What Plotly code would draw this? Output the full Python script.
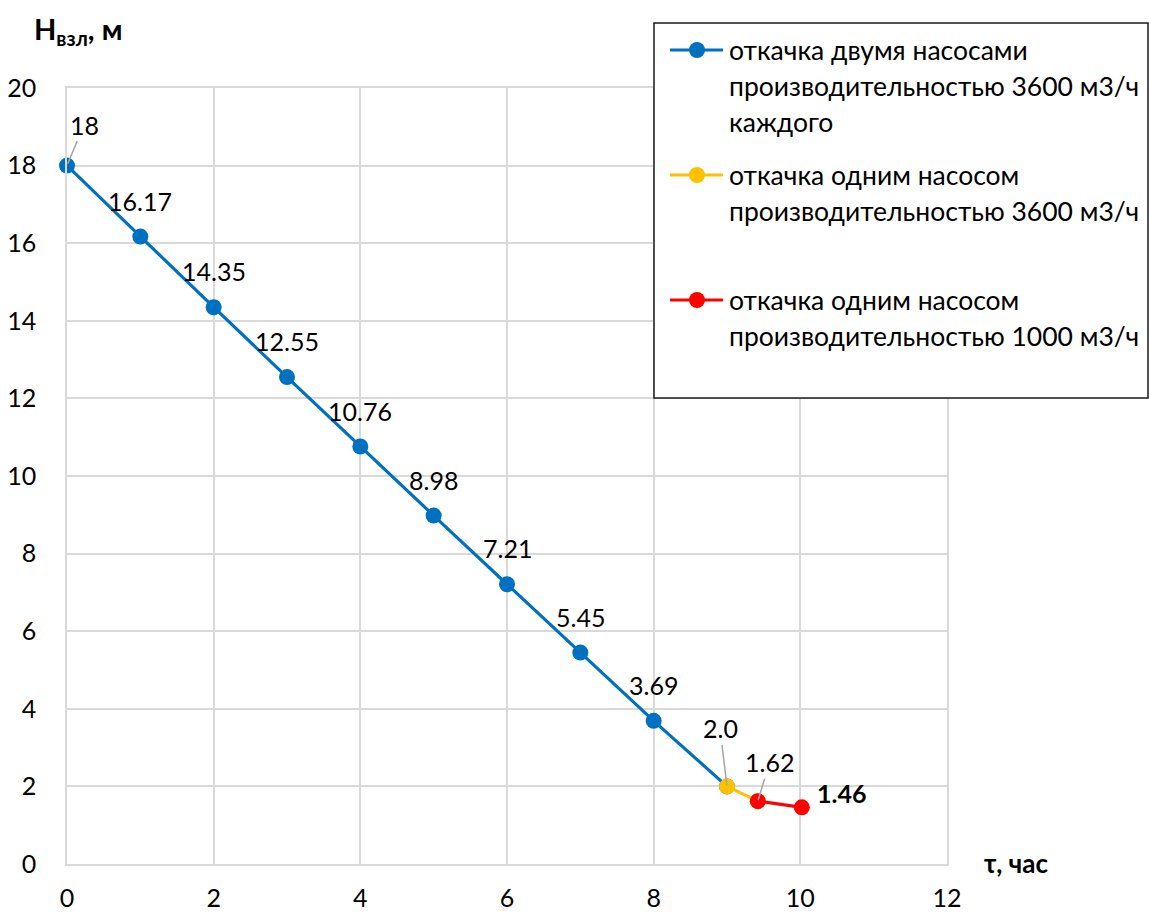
import plotly.graph_objects as go

# Время откачки, ч, и уровень воды H_взл, м
t_two = [0, 1, 2, 3, 4, 5, 6, 7, 8, 9]
h_two = [18, 16.17, 14.35, 12.55, 10.76, 8.98, 7.21, 5.45, 3.69, 2.0]
t_one_3600 = [9, 9.42]
h_one_3600 = [2.0, 1.62]
t_one_1000 = [9.42, 10.02]
h_one_1000 = [1.62, 1.46]

labels_two = ["18", "16.17", "14.35", "12.55", "10.76", "8.98", "7.21", "5.45", "3.69"]
label_start_one = "2.0"
label_mid_one = "1.62"
label_end_one = "1.46"

legend_lines = [
    ["откачка двумя насосами", "производительностью 3600 м3/ч", "каждого"],
    ["откачка одним насосом", "производительностью 3600 м3/ч"],
    ["откачка одним насосом", "производительностью 1000 м3/ч"],
]
colors = ["#0070C0", "#FFC000", "#FF0000"]

FONT = "Lato"
FS = 25
W, H = 1150, 913
ML, MR, MT, MB = 67, 203, 88, 49
PW, PH = W - ML - MR, H - MT - MB


def px_x(px):
    return (px - ML) / PW


def px_y(py):
    return (H - MB - py) / PH


fig = go.Figure()
for xs, ys, col in [
    (t_two, h_two, colors[0]),
    (t_one_3600, h_one_3600, colors[1]),
    (t_one_1000, h_one_1000, colors[2]),
]:
    fig.add_trace(go.Scatter(
        x=xs, y=ys, mode="lines+markers", showlegend=False,
        line=dict(color=col, width=3.2),
        marker=dict(color=col, size=16),
        cliponaxis=False,
    ))

annotations = []
# data labels
annotations.append(dict(x=t_two[0], y=h_two[0], text=labels_two[0], showarrow=True,
                        arrowhead=0, arrowcolor="#A6A6A6", arrowwidth=1.5,
                        ax=17, ay=-41, standoff=2))
for x, y, txt in zip(t_two[1:9], h_two[1:9], labels_two[1:9]):
    annotations.append(dict(x=x, y=y, text=txt, showarrow=False, yshift=36))
annotations.append(dict(x=t_one_3600[0], y=h_one_3600[0], text=label_start_one, showarrow=True,
                        arrowhead=0, arrowcolor="#A6A6A6", arrowwidth=1.5,
                        ax=-7, ay=-58, standoff=1))
annotations.append(dict(x=t_one_1000[0], y=h_one_1000[0], text=label_mid_one, showarrow=True,
                        arrowhead=0, arrowcolor="#A6A6A6", arrowwidth=1.5,
                        ax=12, ay=-39, standoff=1))
annotations.append(dict(x=t_one_1000[1], y=h_one_1000[1], text="<b>" + label_end_one + "</b>",
                        showarrow=False, xshift=40, yshift=14))
for a in annotations:
    a["font"] = dict(family=FONT, size=FS, color="#000")
    a["xref"] = "x"
    a["yref"] = "y"

# axis titles
annotations.append(dict(xref="paper", yref="paper", x=px_x(32), y=px_y(30), xanchor="left", yanchor="middle",
                        text="<b>H<sub>взл</sub>, м</b>", showarrow=False,
                        font=dict(family=FONT, size=29, color="#000")))
annotations.append(dict(xref="paper", yref="paper", x=px_x(982), y=px_y(863), xanchor="left", yanchor="middle",
                        text="<b>τ, час</b>", showarrow=False,
                        font=dict(family=FONT, size=26, color="#000")))

# legend box with line-and-marker keys
shapes = [dict(type="rect", xref="paper", yref="paper",
               x0=px_x(654), x1=px_x(1148), y0=px_y(398), y1=px_y(23),
               line=dict(color="#1A1A1A", width=1.5), fillcolor="white", layer="above")]
key_y = [50, 175, 300]
line_step = 36
for lines, col, ky in zip(legend_lines, colors, key_y):
    shapes.append(dict(type="line", xref="paper", yref="paper",
                       x0=px_x(670), x1=px_x(723), y0=px_y(ky), y1=px_y(ky),
                       line=dict(color=col, width=3.2), layer="above"))
    shapes.append(dict(type="circle", xref="paper", yref="paper",
                       xsizemode="pixel", ysizemode="pixel",
                       xanchor=px_x(697), yanchor=px_y(ky),
                       x0=-8, x1=8, y0=-8, y1=8,
                       line=dict(color=col, width=0), fillcolor=col, layer="above"))
    for i, ln in enumerate(lines):
        annotations.append(dict(xref="paper", yref="paper", x=px_x(727), y=px_y(ky + i * line_step),
                                xanchor="left", yanchor="middle", text=ln, showarrow=False,
                                font=dict(family=FONT, size=26.5, color="#000")))

grid = "#D9D9D9"
fig.update_layout(
    width=W, height=H, autosize=False,
    margin=dict(l=ML, r=MR, t=MT, b=MB),
    paper_bgcolor="white", plot_bgcolor="white",
    font=dict(family=FONT, size=FS, color="#000"),
    xaxis=dict(range=[0, 12], dtick=2, tick0=0, showgrid=True, gridcolor=grid, gridwidth=1.5,
               zeroline=False, showline=True, mirror=True, linecolor=grid, linewidth=1.5,
               ticks="", ticklabelstandoff=11, automargin=False,
               tickfont=dict(family=FONT, size=FS, color="#000")),
    yaxis=dict(range=[0, 20], dtick=2, tick0=0, showgrid=True, gridcolor=grid, gridwidth=1.5,
               zeroline=False, showline=True, mirror=True, linecolor=grid, linewidth=1.5,
               ticks="", ticklabelstandoff=24, automargin=False,
               tickfont=dict(family=FONT, size=FS, color="#000")),
    showlegend=False,
    annotations=annotations,
    shapes=shapes,
)

fig.write_html("out.html")
